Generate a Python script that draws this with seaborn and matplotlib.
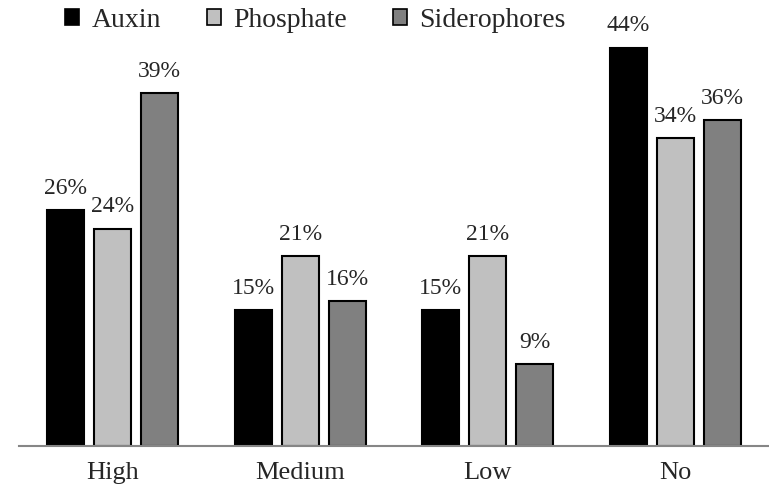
import matplotlib
matplotlib.use("Agg")
import matplotlib.pyplot as plt
import seaborn as sns
import pandas as pd
from matplotlib.patches import Patch

levels = ["High", "Medium", "Low", "No"]
auxin = [26, 15, 15, 44]
phosphate = [24, 21, 21, 34]
siderophores = [39, 16, 9, 36]
series_names = ["Auxin", "Phosphate", "Siderophores"]
colors = ["#000000", "#c0c0c0", "#808080"]

df = pd.DataFrame({
    "level": levels * 3,
    "value": auxin + phosphate + siderophores,
    "trait": sum([[n] * len(levels) for n in series_names], []),
})

sns.set_theme(style="white")
plt.rcParams["font.family"] = ["Liberation Serif", "DejaVu Serif"]

fig = plt.figure(figsize=(7.69, 4.92), dpi=100)
ax = fig.add_axes([0.0247, 0.094, 0.9753, 0.906])

sns.barplot(data=df, x="level", y="value", hue="trait", order=levels,
            hue_order=series_names, palette=colors, width=0.75, gap=0.21,
            edgecolor="black", linewidth=1.5, ax=ax, legend=False)

for cont in ax.containers:
    ax.bar_label(cont, fmt="%d%%", padding=8, fontsize=17)

ax.set_xlim(-0.5, 3.5)
ax.set_ylim(0, 49.25)
ax.set_xlabel("")
ax.set_ylabel("")
ax.set_yticks([])
ax.tick_params(axis="x", length=0, pad=12, labelsize=19)
for s in ["left", "right", "top"]:
    ax.spines[s].set_visible(False)
ax.spines["bottom"].set_color("#868686")
ax.spines["bottom"].set_linewidth(1.5)

handles = [Patch(facecolor=c, edgecolor="black", linewidth=1.2) for c in colors]
fig.legend(handles, series_names, loc="center", bbox_to_anchor=(0.41, 0.958),
           ncol=3, frameon=False, fontsize=20, handlelength=0.5,
           handleheight=0.5, handletextpad=0.45, columnspacing=1.65)

fig.savefig("out.png", dpi=100)
